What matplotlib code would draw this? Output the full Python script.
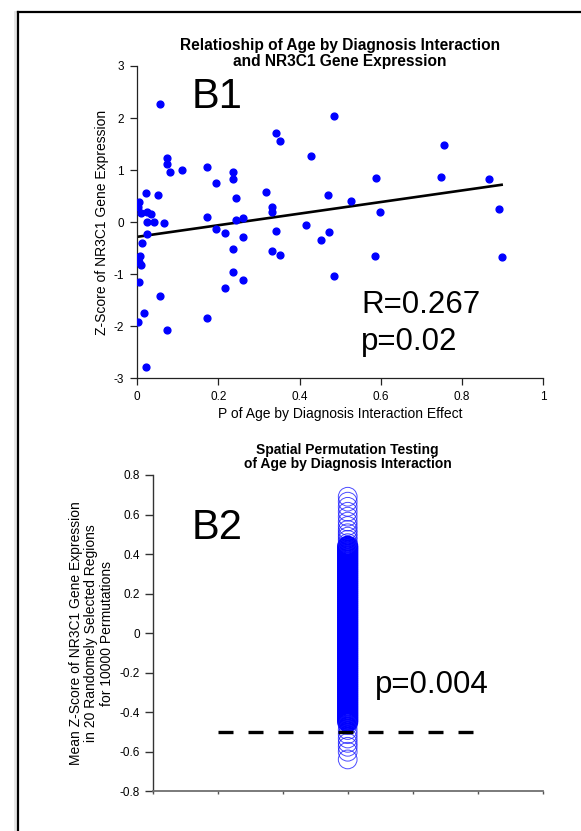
import numpy as np
import matplotlib
matplotlib.use("Agg")
import matplotlib.pyplot as plt
from matplotlib.lines import Line2D

plt.rcParams['font.family'] = ['Liberation Sans', 'DejaVu Sans']
plt.rcParams['axes.unicode_minus'] = False

# ---- panel B1: regional p-values vs NR3C1 z-scores ----
p_interaction = [
    0.057, 0.074, 0.074, 0.081, 0.111, 0.172, 0.194, 0.235, 0.237, 0.244,
    0.318, 0.342, 0.351, 0.428, 0.484, 0.470, 0.473, 0.454, 0.415, 0.333,
    0.333, 0.342, 0.333, 0.352, 0.237, 0.260, 0.216, 0.194, 0.173, 0.243,
    0.260, 0.065, 0.051, 0.022, 0.005, 0.002, 0.009, 0.023, 0.035, 0.024,
    0.040, 0.023, 0.012, 0.002, 0.007, 0.003, 0.009, 0.004, 0.237, 0.260,
    0.216, 0.484, 0.057, 0.016, 0.002, 0.073, 0.172, 0.022, 0.757, 0.588,
    0.749, 0.866, 0.527, 0.597, 0.891, 0.587, 0.898,
]
z_expression = [
    2.26, 1.23, 1.11, 0.96, 1.01, 1.05, 0.76, 0.96, 0.83, 0.46,
    0.58, 1.72, 1.55, 1.28, 2.04, 0.53, -0.19, -0.35, -0.05, 0.30,
    0.20, -0.17, -0.55, -0.63, -0.51, -0.28, -0.21, -0.13, 0.10, 0.05,
    0.07, -0.01, 0.53, 0.56, 0.38, 0.30, 0.18, 0.20, 0.15, 0.01,
    0.01, -0.22, -0.40, -0.69, -0.65, -0.76, -0.83, -1.15, -0.96, -1.12,
    -1.27, -1.03, -1.42, -1.74, -1.91, -2.07, -1.84, -2.79, 1.48, 0.84,
    0.86, 0.82, 0.41, 0.19, 0.25, -0.65, -0.67,
]
fit_intercept = -0.282
fit_slope = 1.113

b1_xticks = [0, 0.2, 0.4, 0.6, 0.8, 1]
b1_xticklabels = ['0', '0.2', '0.4', '0.6', '0.8', '1']
b1_yticks = [-3, -2, -1, 0, 1, 2, 3]
b1_yticklabels = ['-3', '-2', '-1', '0', '1', '2', '3']

# ---- panel B2: permutation means ----
perm_position = 3
perm_means = [
    0.690, 0.665, 0.639, 0.614, 0.589, 0.564, 0.542, 0.522, 0.505, 0.488,
    0.472, 0.455,
    0.44, 0.43, 0.42, 0.41, 0.40, 0.39, 0.38, 0.37, 0.36, 0.35,
    0.34, 0.33, 0.32, 0.31, 0.30, 0.29, 0.28, 0.27, 0.26, 0.25,
    0.24, 0.23, 0.22, 0.21, 0.20, 0.19, 0.18, 0.17, 0.16, 0.15,
    0.14, 0.13, 0.12, 0.11, 0.10, 0.09, 0.08, 0.07, 0.06, 0.05,
    0.04, 0.03, 0.02, 0.01, 0.00, -0.01, -0.02, -0.03, -0.04, -0.05,
    -0.06, -0.07, -0.08, -0.09, -0.10, -0.11, -0.12, -0.13, -0.14, -0.15,
    -0.16, -0.17, -0.18, -0.19, -0.20, -0.21, -0.22, -0.23, -0.24, -0.25,
    -0.26, -0.27, -0.28, -0.29, -0.30, -0.31, -0.32, -0.33, -0.34, -0.35,
    -0.36, -0.37, -0.38, -0.39, -0.40, -0.41, -0.42, -0.43, -0.44, -0.45,
    -0.466, -0.491, -0.512, -0.534, -0.556, -0.576, -0.601, -0.640,
]
observed_mean = -0.5
observed_span = [1, 5]

b2_xticks = [0, 1, 2, 3, 4, 5, 6]
b2_yticks = [-0.8, -0.6, -0.4, -0.2, 0, 0.2, 0.4, 0.6, 0.8]
b2_yticklabels = ['-0.8', '-0.6', '-0.4', '-0.2', '0', '0.2', '0.4', '0.6', '0.8']

fig = plt.figure(figsize=(5.81, 8.31), dpi=100)

# --- B1 ---
ax1 = fig.add_axes([0.2363, 0.5448, 0.6983, 0.3758])
ax1.scatter(p_interaction, z_expression, s=24, color='#0000ff', zorder=3)
xs = np.array([min(p_interaction), max(p_interaction)])
ax1.plot(xs, fit_intercept + fit_slope * xs, color='black', lw=1.9, zorder=2)
ax1.set_xlim(0, 1)
ax1.set_ylim(-3, 3)
ax1.set_xticks(b1_xticks)
ax1.set_xticklabels(b1_xticklabels)
ax1.set_yticks(b1_yticks)
ax1.set_yticklabels(b1_yticklabels)
for s in ['top', 'right']:
    ax1.spines[s].set_visible(False)
for s in ['left', 'bottom']:
    ax1.spines[s].set_linewidth(0.9)
    ax1.spines[s].set_color('#222222')
ax1.tick_params(direction='out', length=5, width=0.9, pad=4.5,
                labelsize=8.5, color='#222222')
ax1.set_xlabel('P of Age by Diagnosis Interaction Effect', fontsize=10)
ax1.xaxis.set_label_coords(0.5, -0.093)
ax1.set_ylabel('Z-Score of NR3C1 Gene Expression', fontsize=10)
ax1.yaxis.set_label_coords(-0.070, 0.5)
ax1.text(0.5, 0.99, 'Relatioship of Age by Diagnosis Interaction\nand NR3C1 Gene Expression',
         transform=ax1.transAxes, ha='center', va='bottom', fontsize=11.2,
         fontweight='bold', linespacing=1.08)
ax1.text(0.134, 2.19, 'B1', fontsize=30, va='baseline', ha='left')
ax1.text(0.552, -1.75, 'R=0.267', fontsize=22.5, va='baseline', ha='left')
ax1.text(0.552, -2.456, 'p=0.02', fontsize=22.5, va='baseline', ha='left')

# --- B2 ---
ax2 = fig.add_axes([0.2628, 0.0481, 0.6713, 0.3803])
perm = np.array(perm_means)
core = (perm > -0.455) & (perm < 0.445)
ax2.scatter(np.full(core.sum(), perm_position), perm[core], s=182,
            facecolors='none', edgecolors='#0000ff', linewidths=1.7,
            zorder=2)
ax2.scatter(np.full((~core).sum(), perm_position), perm[~core], s=182,
            facecolors='none', edgecolors='#1010ff', linewidths=0.7,
            alpha=0.75, zorder=2)
ax2.plot(observed_span, [observed_mean, observed_mean], color='black', lw=2.4,
         dashes=(4.5, 4.5), zorder=3)
ax2.set_xlim(0, 6)
ax2.set_ylim(-0.8, 0.8)
ax2.set_xticks(b2_xticks)
ax2.set_xticklabels([])
ax2.set_yticks(b2_yticks)
ax2.set_yticklabels(b2_yticklabels)
for s in ['top', 'right']:
    ax2.spines[s].set_visible(False)
ax2.spines['left'].set_color('#333333')
ax2.spines['left'].set_linewidth(1.0)
ax2.spines['bottom'].set_color('#707070')
ax2.spines['bottom'].set_linewidth(1.3)
ax2.tick_params(axis='y', direction='out', length=5.5, width=1.0, pad=3.6,
                labelsize=8.5, color='#333333')
ax2.tick_params(axis='x', direction='out', length=2.5, width=1.0,
                color='#555555')
ax2.set_ylabel('Mean Z-Score of NR3C1 Gene Expression\nin 20 Randomely Selected Regions\nfor 10000 Permutations',
               fontsize=10, linespacing=1.12)
ax2.yaxis.set_label_coords(-0.10, 0.5)
ax2.text(0.5, 1.014, 'Spatial Permutation Testing\nof Age by Diagnosis Interaction',
         transform=ax2.transAxes, ha='center', va='bottom', fontsize=10,
         fontweight='bold', linespacing=1.0)
ax2.text(0.6, 0.478, 'B2', fontsize=30, va='baseline', ha='left')
ax2.text(3.42, -0.305, 'p=0.004', fontsize=22.5, va='baseline', ha='left')

# page frame (left and top edges)
W, H = 581, 831
fig.add_artist(Line2D([15 / W, 15 / W], [0, 1 - 12 / H], transform=fig.transFigure,
                      color='#e4e4e4', lw=2.0))
fig.add_artist(Line2D([18 / W, 18 / W], [0, 1 - 11.5 / H], transform=fig.transFigure,
                      color='black', lw=1.6))
fig.add_artist(Line2D([17.5 / W, 1], [1 - 11.7 / H, 1 - 11.7 / H], transform=fig.transFigure,
                      color='black', lw=1.6))

fig.savefig('out.png', dpi=100)
